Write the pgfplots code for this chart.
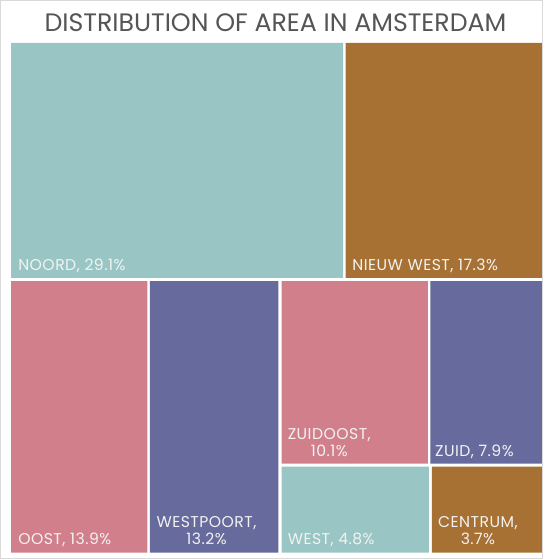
\documentclass[border=0pt]{standalone}
\usepackage{fontspec}
\setmainfont{Poppins}
\usepackage{pgfplots}
\pgfplotsset{compat=1.18}
\definecolor{cteal}{HTML}{99C6C4}
\definecolor{cbrown}{HTML}{A67132}
\definecolor{cpink}{HTML}{D27F8C}
\definecolor{cpurple}{HTML}{676A9C}
\definecolor{ctitle}{HTML}{555555}
\begin{document}
\begin{tikzpicture}[lbl/.style={text=white!95!black, font=\fontsize{15.5}{16.5}\selectfont\addfontfeatures{LetterSpace=3}, align=center, inner sep=0pt}]
\begin{axis}[
  scale only axis, width=541pt, height=559pt,
  xmin=0, xmax=541, ymin=0, ymax=559, y dir=reverse,
  hide axis, clip=false,
]
% frame
\addplot[draw=black!15, line width=0.8pt] coordinates {(2.5,4) (539.5,4) (539.5,557) (2.5,557) (2.5,4)};
% NOORD 29.1%
\addplot[draw=none, fill=cteal] coordinates {(13,46) (342,46) (342,279) (13,279) (13,46)};
% NIEUW WEST 17.3%
\addplot[draw=none, fill=cbrown] coordinates {(344.5,46) (539,46) (539,279) (344.5,279) (344.5,46)};
% OOST 13.9%
\addplot[draw=none, fill=cpink] coordinates {(13,282) (148,282) (148,551) (13,551) (13,282)};
% WESTPOORT 13.2%
\addplot[draw=none, fill=cpurple] coordinates {(150.5,282) (278,282) (278,551) (150.5,551) (150.5,282)};
% ZUIDOOST 10.1%
\addplot[draw=none, fill=cpink] coordinates {(281,282) (426,282) (426,463) (281,463) (281,282)};
% ZUID 7.9%
\addplot[draw=none, fill=cpurple] coordinates {(428.5,282) (539,282) (539,463) (428.5,463) (428.5,282)};
% WEST 4.8%
\addplot[draw=none, fill=cteal] coordinates {(281,466) (427,466) (427,551) (281,551) (281,466)};
% CENTRUM 3.7%
\addplot[draw=none, fill=cbrown] coordinates {(430,466) (539,466) (539,551) (430,551) (430,466)};

\node[text=ctitle, font=\fontsize{25}{28}\selectfont, anchor=base] at (axis cs:275,35) {DISTRIBUTION OF AREA IN AMSTERDAM};

\node[lbl, anchor=base west] at (axis cs:20,272) {NOORD, 29.1\%};
\node[lbl, anchor=base west] at (axis cs:351,272) {NIEUW WEST, 17.3\%};
\node[lbl, anchor=base west] at (axis cs:20,543) {OOST, 13.9\%};
\node[lbl, anchor=base west] at (axis cs:157,543) {WESTPOORT,\\13.2\%};
\node[lbl, anchor=base west] at (axis cs:287,456) {ZUIDOOST,\\10.1\%};
\node[lbl, anchor=base west] at (axis cs:433,456) {ZUID, 7.9\%};
\node[lbl, anchor=base west] at (axis cs:287,543) {WEST, 4.8\%};
\node[lbl, anchor=base west] at (axis cs:436,543) {CENTRUM,\\3.7\%};
\end{axis}
\end{tikzpicture}
\end{document}
